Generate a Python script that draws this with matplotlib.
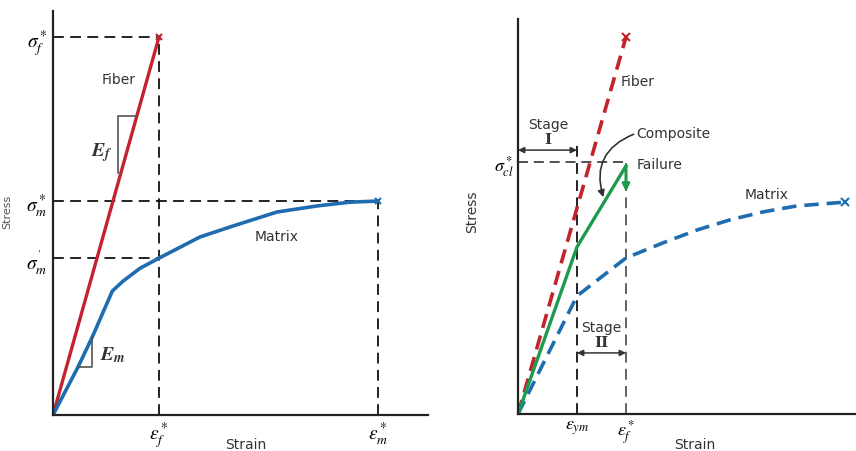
import matplotlib
matplotlib.use("Agg")
import matplotlib.pyplot as plt
import numpy as np

plt.rcParams['mathtext.fontset'] = 'stix'
plt.rcParams['font.family'] = ['DejaVu Sans']

# ---------------- data (left panel) ----------------
L_fiber_strain = [0.0, 1.0]
L_fiber_stress = [0.0, 1.0]
L_matrix_strain = [0.0, 0.236, 0.37, 0.56, 0.66, 0.82, 1.0, 1.387, 1.698, 2.113, 2.49, 2.80, 3.066]
L_matrix_stress = [0.0, 0.127, 0.206, 0.328, 0.354, 0.388, 0.415, 0.471, 0.500, 0.537, 0.553, 0.563, 0.566]
L_eps_f = 1.0
L_eps_m = 3.066
L_sig_f = 1.0
L_sig_m = 0.566
L_sig_m_prime = 0.415

# ---------------- data (right panel) ----------------
R_fiber_strain = [0.0, 1.0]
R_fiber_stress = [0.0, 1.0]
R_matrix_strain = [0.0, 0.546, 0.667, 1.0, 1.343, 1.657, 1.963, 2.269, 2.583, 3.028]
R_matrix_stress = [0.0, 0.313, 0.340, 0.414, 0.454, 0.488, 0.515, 0.536, 0.552, 0.562]
R_comp_strain = [0.0, 0.546, 1.0]
R_comp_stress = [0.0, 0.443, 0.658]
R_eps_ym = 0.546
R_eps_f = 1.0
R_sig_cl = 0.668
R_fail_drop = 0.61

RED = '#c3232d'
BLUE = '#1f6db0'
GREEN = '#1e9a4f'
AX = '#222222'

fig = plt.figure(figsize=(8.56, 4.52), dpi=100)
W, H = 856, 452

def add_ax(x0, x1, ytop, ybot):
    return fig.add_axes([x0 / W, (H - ybot) / H, (x1 - x0) / W, (ybot - ytop) / H])

def style(ax):
    for s in ['top', 'right']:
        ax.spines[s].set_visible(False)
    for s in ['left', 'bottom']:
        ax.spines[s].set_color(AX)
        ax.spines[s].set_linewidth(1.6)
    ax.tick_params(length=0, pad=3)

# ================= LEFT =================
axL = add_ax(53, 428, 12, 416)
style(axL)
axL.set_xlim(0, 375 / 106)
axL.set_ylim(0, 404 / 378)

dk = dict(color='#111111', lw=1.3, ls=(0, (6, 3.5)))
axL.plot([0, L_eps_f], [L_sig_f, L_sig_f], **dk)
axL.plot([L_eps_f, L_eps_f], [0, L_sig_f], **dk)
axL.plot([0, L_eps_m], [L_sig_m, L_sig_m], **dk)
axL.plot([L_eps_m, L_eps_m], [0, L_sig_m], **dk)
axL.plot([0, L_eps_f], [L_sig_m_prime, L_sig_m_prime], **dk)

axL.plot(L_fiber_strain, L_fiber_stress, color=RED, lw=2.4, solid_capstyle='round')
axL.plot(L_matrix_strain, L_matrix_stress, color=BLUE, lw=2.6, solid_joinstyle='round')
axL.plot([L_fiber_strain[-1]], [L_fiber_stress[-1]], marker='x', color=RED, ms=5, mew=1.5)
axL.plot([L_matrix_strain[-1]], [L_matrix_stress[-1]], marker='x', color=BLUE, ms=5, mew=1.5)

# slope triangles
slope_f = L_fiber_stress[1] / L_fiber_strain[1]
xf0, yf0, yf1 = 0.615, 0.64, 0.79
axL.plot([xf0, xf0, yf1 / slope_f], [yf0, yf1, yf1], color='#555555', lw=1.2)
xm0, ym0 = L_matrix_strain[1], L_matrix_stress[1]
xm1, ym1 = L_matrix_strain[2], L_matrix_stress[2]
axL.plot([xm0, xm1, xm1], [ym0, ym0, ym1], color='#555555', lw=1.2)

axL.text(0.623, 0.889, 'Fiber', ha='center', va='center', fontsize=10, color='#333333')
axL.text(0.462, 0.696, r'$\mathbfit{E_f}$', ha='center', va='center', fontsize=14, color='#333333')
axL.text(0.56, 0.161, r'$\mathbfit{E_m}$', ha='center', va='center', fontsize=14, color='#333333')
axL.text(2.113, 0.474, 'Matrix', ha='center', va='center', fontsize=10, color='#333333')
axL.text(0.513, -0.072, 'Strain', transform=axL.transAxes, ha='center', va='center',
         fontsize=10, color='#333333')

axL.set_xticks([L_eps_f, L_eps_m])
axL.set_xticklabels([r'$\epsilon_f^*$', r'$\epsilon_m^*$'], fontsize=14)
axL.set_yticks([L_sig_m_prime, L_sig_m, L_sig_f])
axL.set_yticklabels([r"$\sigma_m^{'}$", r'$\sigma_m^*$', r'$\sigma_f^*$'], fontsize=14)
axL.tick_params(axis='y', pad=4)

fig.text(7 / W, 1 - 212 / H, 'Stress', rotation=90, ha='center', va='center',
         fontsize=8, color='#555555')

# ================= RIGHT =================
axR = add_ax(518, 856, 20, 415)
style(axR)
axR.set_xlim(0, 338 / 108)
axR.set_ylim(0, 395 / 377)

axR.plot([0, R_eps_f], [R_sig_cl, R_sig_cl], color='#333333', lw=1.2, ls=(0, (6, 3.5)))
axR.plot([R_eps_ym, R_eps_ym], [0, 0.721], color='#111111', lw=1.3, ls=(0, (6, 3.5)))
axR.plot([R_eps_f, R_eps_f], [0, R_sig_cl], color='#555555', lw=1.3, ls=(0, (6, 3.5)))

axR.plot(R_fiber_strain, R_fiber_stress, color=RED, lw=2.6, ls=(0, (4, 2.2)))
axR.plot(R_matrix_strain, R_matrix_stress, color=BLUE, lw=2.6, ls=(0, (4, 2.2)))
axR.plot([R_fiber_strain[-1]], [R_fiber_stress[-1]], marker='x', color=RED, ms=6, mew=1.5)
axR.plot([R_matrix_strain[-1]], [R_matrix_stress[-1]], marker='x', color=BLUE, ms=6, mew=1.5)
axR.plot(R_comp_strain, R_comp_stress, color=GREEN, lw=2.4)
axR.annotate('', xy=(R_eps_f, R_fail_drop - 0.02), xytext=(R_eps_f, R_comp_stress[-1]),
             arrowprops=dict(arrowstyle='-|>', color=GREEN, lw=2.2, mutation_scale=10,
                             shrinkA=0, shrinkB=0))

# stage arrows
axR.annotate('', xy=(0, 0.70), xytext=(R_eps_ym, 0.70),
             arrowprops=dict(arrowstyle='<|-|>', color='#333333', lw=1.1, mutation_scale=9,
                             shrinkA=0, shrinkB=0))
axR.annotate('', xy=(R_eps_ym, 0.162), xytext=(R_eps_f, 0.162),
             arrowprops=dict(arrowstyle='<|-|>', color='#333333', lw=1.1, mutation_scale=9,
                             shrinkA=0, shrinkB=0))
axR.text(0.278, 0.769, 'Stage', ha='center', va='center', fontsize=10, color='#333333')
axR.text(0.278, 0.730, 'I', ha='center', va='center', fontsize=11, color='#333333',
         family='DejaVu Serif', fontweight='bold')
axR.text(0.769, 0.231, 'Stage', ha='center', va='center', fontsize=10, color='#333333')
axR.text(0.769, 0.192, 'II', ha='center', va='center', fontsize=11, color='#333333',
         family='DejaVu Serif', fontweight='bold')

axR.annotate('', xy=(0.79, 0.575), xytext=(1.07, 0.742),
             arrowprops=dict(arrowstyle='-|>', color='#333333', lw=1.2, mutation_scale=10,
                             connectionstyle='arc3,rad=0.45', shrinkA=0, shrinkB=0))
axR.text(1.095, 0.745, 'Composite', ha='left', va='center', fontsize=10, color='#333333')
axR.text(1.095, 0.662, 'Failure', ha='left', va='center', fontsize=10, color='#333333')
axR.text(0.954, 0.883, 'Fiber', ha='left', va='center', fontsize=10, color='#333333')
axR.text(2.30, 0.584, 'Matrix', ha='center', va='center', fontsize=10, color='#333333')

axR.set_xticks([R_eps_ym, R_eps_f])
axR.set_xticklabels([r'$\epsilon_{ym}$', r'$\epsilon_f^*$'], fontsize=13)
axR.set_yticks([R_sig_cl])
axR.set_yticklabels([r'$\sigma_{cl}^*$'], fontsize=13)
axR.text(-0.136, 0.514, 'Stress', transform=axR.transAxes, rotation=90, ha='center',
         va='center', fontsize=10, color='#333333')
axR.text(0.524, -0.076, 'Strain', transform=axR.transAxes, ha='center', va='center',
         fontsize=10, color='#333333')

fig.savefig('out.png', dpi=100)
